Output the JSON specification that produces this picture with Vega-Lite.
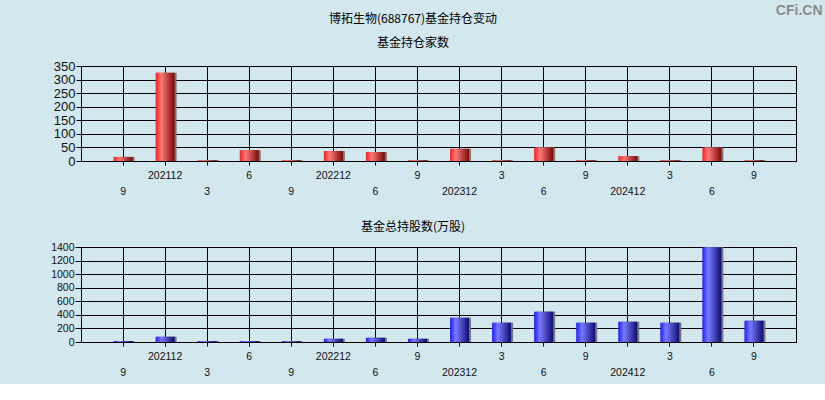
{
  "$schema": "https://vega.github.io/schema/vega-lite/v6.json",
  "background": "#d2e7ee",
  "padding": {"left": 50, "right": 3, "top": 3, "bottom": 5},
  "title": {"text": "CFi.CN", "anchor": "end", "frame": "bounds", "font": "Liberation Sans", "fontSize": 14, "fontWeight": "bold", "color": "#8c8c8c", "offset": -5, "dx": 26},
  "datasets": {
    "holders": [
      {"period": "202109", "count": 15},
      {"period": "202112", "count": 325},
      {"period": "202203", "count": 3},
      {"period": "202206", "count": 40},
      {"period": "202209", "count": 3},
      {"period": "202212", "count": 37},
      {"period": "202306", "count": 33},
      {"period": "202309", "count": 3},
      {"period": "202312", "count": 45},
      {"period": "202403", "count": 3},
      {"period": "202406", "count": 50},
      {"period": "202409", "count": 3},
      {"period": "202412", "count": 18},
      {"period": "202503", "count": 3},
      {"period": "202506", "count": 50},
      {"period": "202509", "count": 3}
    ],
    "shares": [
      {"period": "202109", "shares": 15},
      {"period": "202112", "shares": 78},
      {"period": "202203", "shares": 14},
      {"period": "202206", "shares": 14},
      {"period": "202209", "shares": 12},
      {"period": "202212", "shares": 48},
      {"period": "202306", "shares": 63},
      {"period": "202309", "shares": 48},
      {"period": "202312", "shares": 358},
      {"period": "202403", "shares": 285},
      {"period": "202406", "shares": 447},
      {"period": "202409", "shares": 285},
      {"period": "202412", "shares": 299},
      {"period": "202503", "shares": 285},
      {"period": "202506", "shares": 1398},
      {"period": "202509", "shares": 314}
    ]
  },
  "spacing": 22,
  "vconcat": [
    {
      "width": 715,
      "height": 95,
      "title": {"text": "博拓生物(688767)基金持仓变动", "subtitle": "基金持仓家数", "anchor": "middle", "frame": "group", "dx": -25.5, "offset": 10, "subtitlePadding": 12},
      "data": {"name": "holders"},
      "encoding": {
        "x": {
          "field": "period", "type": "ordinal", "sort": null,
          "scale": {"paddingInner": 0, "paddingOuter": 0.5},
          "axis": {
            "title": null, "labelAngle": 0, "grid": true, "bandPosition": 0.5,
            "tickSize": 4, "labelPadding": 5, "labelFontSize": 10.5, "labelLineHeight": 16.5,
            "labelOverlap": false,
            "labelExpr": "indexof(['202109','202203','202209','202306','202312','202406','202412','202506'], datum.value) >= 0 ? ['', (substring(datum.value,4) == '12' ? datum.value : '' + toNumber(substring(datum.value,4)))] : [(substring(datum.value,4) == '12' ? datum.value : '' + toNumber(substring(datum.value,4)))]"
          }
        },
        "y": {
          "field": "count", "type": "quantitative",
          "scale": {"domain": [0, 350], "nice": false},
          "axis": {"title": null, "values": [0, 50, 100, 150, 200, 250, 300, 350], "format": "d", "grid": true, "tickSize": 5, "labelPadding": 1, "labelFontSize": 13, "minExtent": 30, "maxExtent": 30}
        }
      },
      "layer": [
        {"mark": {"type": "bar", "size": 19, "xOffset": 2, "color": "#777777"}},
        {"mark": {"type": "bar", "size": 19, "color": {"gradient": "linear", "x1": 0, "y1": 0, "x2": 1, "y2": 0, "stops": [{"offset": 0, "color": "#ff1c1c"}, {"offset": 0.3, "color": "#ff7a7a"}, {"offset": 1, "color": "#780808"}]}}}
      ]
    },
    {
      "width": 715,
      "height": 95,
      "title": {"text": "基金总持股数(万股)", "anchor": "middle", "frame": "group", "dx": -25.5, "offset": 8},
      "data": {"name": "shares"},
      "encoding": {
        "x": {
          "field": "period", "type": "ordinal", "sort": null,
          "scale": {"paddingInner": 0, "paddingOuter": 0.5},
          "axis": {
            "title": null, "labelAngle": 0, "grid": true, "bandPosition": 0.5,
            "tickSize": 4, "labelPadding": 5, "labelFontSize": 10.5, "labelLineHeight": 16.5,
            "labelOverlap": false,
            "labelExpr": "indexof(['202109','202203','202209','202306','202312','202406','202412','202506'], datum.value) >= 0 ? ['', (substring(datum.value,4) == '12' ? datum.value : '' + toNumber(substring(datum.value,4)))] : [(substring(datum.value,4) == '12' ? datum.value : '' + toNumber(substring(datum.value,4)))]"
          }
        },
        "y": {
          "field": "shares", "type": "quantitative",
          "scale": {"domain": [0, 1400], "nice": false},
          "axis": {"title": null, "values": [0, 200, 400, 600, 800, 1000, 1200, 1400], "format": "d", "grid": true, "tickSize": 6, "labelPadding": 1, "labelFontSize": 10.5, "minExtent": 30, "maxExtent": 30}
        }
      },
      "layer": [
        {"mark": {"type": "bar", "size": 19, "xOffset": 2, "color": "#777777"}},
        {"mark": {"type": "bar", "size": 19, "color": {"gradient": "linear", "x1": 0, "y1": 0, "x2": 1, "y2": 0, "stops": [{"offset": 0, "color": "#1c1cff"}, {"offset": 0.3, "color": "#7a7aff"}, {"offset": 1, "color": "#0c0c70"}]}}}
      ]
    }
  ],
  "config": {
    "view": {"stroke": "#000000", "strokeWidth": 1},
    "axis": {"gridColor": "#000000", "gridOpacity": 1, "gridWidth": 1, "domainColor": "#000000", "tickColor": "#000000", "labelColor": "#111111", "labelFont": "Liberation Sans"},
    "title": {"font": "Noto Sans CJK SC", "fontSize": 12, "fontWeight": "normal", "color": "#000000", "subtitleFont": "Noto Sans CJK SC", "subtitleFontSize": 12, "subtitleColor": "#000000"}
  }
}
